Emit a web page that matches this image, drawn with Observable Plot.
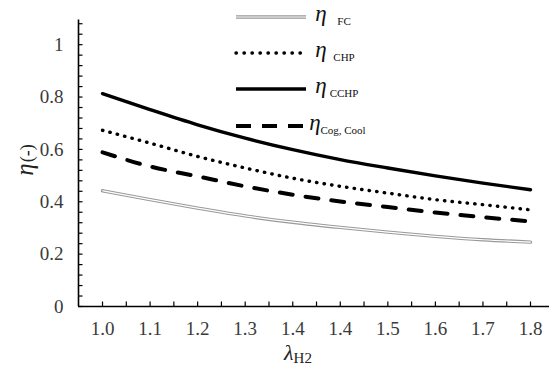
<!DOCTYPE html>
<html><head><meta charset="utf-8">
<script src="https://cdn.jsdelivr.net/npm/d3@7"></script>
<script src="https://cdn.jsdelivr.net/npm/@observablehq/plot@0.6"></script>
<style>body{margin:0;background:#fff} #chart{position:relative;width:549px;height:365px;overflow:hidden}
#chart svg, #chart svg text{font-family:"Liberation Serif","Times New Roman",serif !important}</style>
</head><body><div id="chart"></div>
<script>
// x values (λH2) and their printed tick labels
const lambda = [1.0, 1.0889, 1.1778, 1.2667, 1.3556, 1.4444, 1.5333, 1.6222, 1.7111, 1.8];
const xLabels = ["1.0","1.1","1.2","1.3","1.4","1.4","1.5","1.6","1.7","1.8"];
const yLabelTicks = [0, 0.2, 0.4, 0.6, 0.8, 1];
// series
const etaFC   = [0.442, 0.408, 0.376, 0.346, 0.322, 0.302, 0.284, 0.268, 0.255, 0.246];
const etaCHP  = [0.673, 0.624, 0.573, 0.529, 0.490, 0.459, 0.433, 0.408, 0.389, 0.369];
const etaCCHP = [0.813, 0.752, 0.694, 0.643, 0.599, 0.561, 0.529, 0.499, 0.471, 0.446];
const etaCog  = [0.589, 0.535, 0.497, 0.459, 0.427, 0.401, 0.380, 0.359, 0.341, 0.325];
const seriesNames = ["FC", "CHP", "CCHP", "Cog, Cool"];

const rows = lambda.map((x, i) => ({x, fc: etaFC[i], chp: etaCHP[i], cchp: etaCCHP[i], cog: etaCog[i]}));

const W = 549, H = 365, mL = 78, mR = 0, mT = 18, mB = 59;
const plotW = W - mL - mR, plotH = H - mT - mB;
const xDomain = [0.9551, 1.8355];
const yDomain = [0, 1.1];
const xMinor = [];
lambda.forEach((v, i) => { xMinor.push(v); if (i < lambda.length - 1) xMinor.push((v + lambda[i + 1]) / 2); });
const yMinor = d3.range(0, 1.09, 0.04);

const font = '"Liberation Serif", "Times New Roman", serif';
const plot = Plot.plot({
  width: W, height: H, marginLeft: mL, marginRight: mR, marginTop: mT, marginBottom: mB,
  style: {fontFamily: font, fontSize: "19px", color: "#3a3a3a", background: "#fff", overflow: "visible"},
  x: {domain: xDomain},
  y: {domain: yDomain},
  marks: [
    Plot.axisX(lambda, {tickSize: 0, tickPadding: 15, tickFormat: d => xLabels[lambda.indexOf(d)], label: null, fill: "#3a3a3a", fontSize: 19}),
    Plot.axisY(yLabelTicks, {tickSize: 0, tickPadding: 15, tickFormat: d => String(+d.toFixed(1)), label: null, fill: "#3a3a3a", fontSize: 19}),
    Plot.tickY(yMinor, {y: d => d, insetRight: plotW - 4.5, stroke: "#000", strokeWidth: 1.2}),
    Plot.tickX(xMinor, {x: d => d, insetTop: plotH - 4.5, stroke: "#000", strokeWidth: 1.2}),
    Plot.ruleY([0], {stroke: "#000", strokeWidth: 1.6}),
    Plot.ruleX([xDomain[0]], {y1: yDomain[0], y2: yDomain[1] - 0.006, stroke: "#000", strokeWidth: 1.6}),
    Plot.lineY(rows, {x: "x", y: "fc", stroke: "#999", strokeWidth: 3.4, curve: "monotone-x"}),
    Plot.lineY(rows, {x: "x", y: "fc", stroke: "#fff", strokeWidth: 1.2, curve: "monotone-x"}),
    Plot.lineY(rows, {x: "x", y: "cog", stroke: "#000", strokeWidth: 4, strokeDasharray: "13,13", curve: "monotone-x"}),
    Plot.lineY(rows, {x: "x", y: "chp", stroke: "#000", strokeWidth: 3.4, strokeDasharray: "0.4,7.2", strokeLinecap: "round", curve: "monotone-x"}),
    Plot.lineY(rows, {x: "x", y: "cchp", stroke: "#000", strokeWidth: 3.4, curve: "monotone-x"})
  ]
});
document.getElementById("chart").appendChild(plot);

const svg = d3.select(plot);
// y axis title
const yl = svg.append("text").attr("transform", "translate(33,160) rotate(-90)")
  .attr("text-anchor", "middle").attr("fill", "#222");
yl.append("tspan").attr("font-style", "italic").attr("font-size", 25).text("η");
yl.append("tspan").attr("font-size", 18).attr("dx", 1).text("(-)");
// x axis title
const xl = svg.append("text").attr("x", 298).attr("y", 360).attr("fill", "#222");
xl.append("tspan").attr("font-style", "italic").attr("font-size", 22).text("λ");
xl.append("tspan").attr("font-size", 15).attr("dy", 3).text("H2");

// legend
const legendY = [17, 53, 89, 126];
const etaX = [321, 321, 321, 315];
const subX = [344, 344, 344, 343];
const lg = svg.append("g");
seriesNames.forEach((name, i) => {
  const y = legendY[i];
  const ln = (stroke, w, dash, cap) => lg.append("line").attr("x1", 236).attr("x2", 306)
    .attr("y1", y).attr("y2", y).attr("stroke", stroke).attr("stroke-width", w)
    .attr("stroke-dasharray", dash || null).attr("stroke-linecap", cap || null);
  if (i === 0) { ln("#999", 3.4); ln("#fff", 1.2); }
  if (i === 1) ln("#000", 3.4, "0.4,7.6", "round");
  if (i === 2) ln("#000", 3.6);
  if (i === 3) ln("#000", 4.2, "15,11");
  lg.append("text").attr("x", etaX[i]).attr("y", y + 4).attr("fill", "#111")
    .attr("font-style", "italic").attr("font-size", 23).text("η");
  lg.append("text").attr("x", subX[i]).attr("y", y + 8).attr("fill", "#111")
    .attr("font-size", 11).text(name);
});
</script>
</body></html>
